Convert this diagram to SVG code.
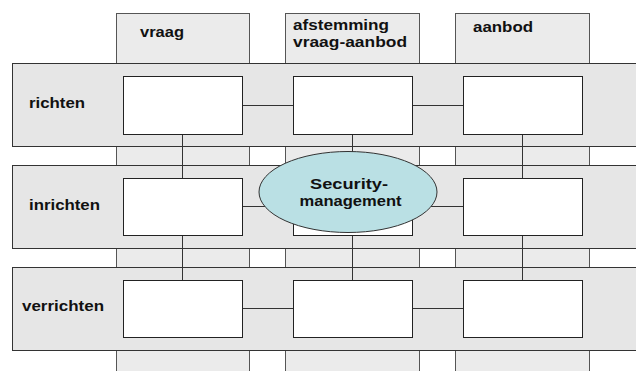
<svg xmlns="http://www.w3.org/2000/svg" width="636" height="371" viewBox="0 0 636 371">
<style>
.col{fill:#ebebeb;stroke:#555;stroke-width:1}
.band{fill:#e6e6e6;stroke:#333;stroke-width:1}
.box{fill:#fff;stroke:#222;stroke-width:1}
.conn{stroke:#333;stroke-width:1;fill:none}
.lbl{font-family:"Liberation Sans",Arial,sans-serif;font-weight:bold;font-size:15px;fill:#111}
.ell{fill:#bae0e4;stroke:#333;stroke-width:1}
</style>
<rect width="636" height="371" fill="#fff"/>
<g id="columns">
<g id="col-vraag"><rect class="col" x="116.5" y="13.5" width="133" height="370"/><text class="lbl" x="140" y="37" textLength="44" lengthAdjust="spacingAndGlyphs">vraag</text></g>
<g id="col-afstemming"><rect class="col" x="285.5" y="13.5" width="134" height="370"/><text class="lbl" x="293" y="30" textLength="96" lengthAdjust="spacingAndGlyphs">afstemming</text><text class="lbl" x="293" y="47" textLength="114" lengthAdjust="spacingAndGlyphs">vraag-aanbod</text></g>
<g id="col-aanbod"><rect class="col" x="455.5" y="13.5" width="134" height="370"/><text class="lbl" x="473" y="32" textLength="60" lengthAdjust="spacingAndGlyphs">aanbod</text></g>
</g>
<g id="bands">
<g id="band-richten"><rect class="band" x="12.5" y="63.5" width="630" height="83"/><text class="lbl" x="29" y="108" textLength="56" lengthAdjust="spacingAndGlyphs">richten</text></g>
<g id="band-inrichten"><rect class="band" x="12.5" y="165.5" width="630" height="83"/><text class="lbl" x="29" y="210" textLength="71" lengthAdjust="spacingAndGlyphs">inrichten</text></g>
<g id="band-verrichten"><rect class="band" x="12.5" y="267.5" width="630" height="83"/><text class="lbl" x="22" y="311" textLength="82" lengthAdjust="spacingAndGlyphs">verrichten</text></g>
</g>
<g id="connectors">
<path class="conn" d="M242 105.5H293M412 105.5H463M242 206.5H293M412 206.5H463M242 308.5H293M412 308.5H463"/>
<path class="conn" d="M182.5 134V178M182.5 235V280M352.5 134V178M352.5 235V280M522.5 134V178M522.5 235V280"/>
</g>
<g id="boxes">
<rect id="box-r-vraag" class="box" x="123.5" y="76.5" width="119" height="58"/>
<rect id="box-r-afst" class="box" x="293.5" y="76.5" width="119" height="58"/>
<rect id="box-r-aanbod" class="box" x="463.5" y="76.5" width="119" height="58"/>
<rect id="box-i-vraag" class="box" x="123.5" y="178.5" width="119" height="57"/>
<rect id="box-i-afst" class="box" x="293.5" y="178.5" width="119" height="57"/>
<rect id="box-i-aanbod" class="box" x="463.5" y="178.5" width="119" height="57"/>
<rect id="box-v-vraag" class="box" x="123.5" y="280.5" width="119" height="57"/>
<rect id="box-v-afst" class="box" x="293.5" y="280.5" width="119" height="57"/>
<rect id="box-v-aanbod" class="box" x="463.5" y="280.5" width="119" height="57"/>
</g>
<g id="security">
<ellipse class="ell" cx="348" cy="192" rx="89" ry="40.5"/>
<text class="lbl" x="310" y="189" textLength="78" lengthAdjust="spacingAndGlyphs">Security-</text>
<text class="lbl" x="299.5" y="206" textLength="102" lengthAdjust="spacingAndGlyphs">management</text>
</g>
</svg>
